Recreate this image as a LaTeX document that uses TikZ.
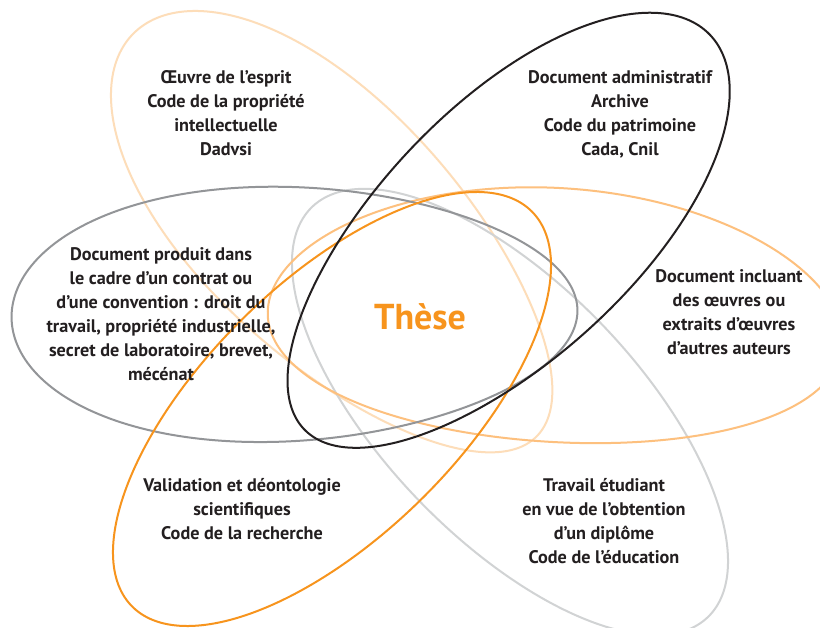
\documentclass[tikz,border=0pt]{standalone}
\usepackage{fontspec}
\setmainfont{PT Sans}
\definecolor{peach}{HTML}{FDDDB9}
\definecolor{lorange}{HTML}{FDC07E}
\definecolor{orng}{HTML}{F7941D}
\definecolor{blk}{HTML}{231F20}
\definecolor{gry}{HTML}{939598}
\definecolor{lgry}{HTML}{D1D3D4}
\tikzset{
  shapeline/.style={line width=2pt, line join=round},
  lbl/.style={align=center, font=\fontsize{18.2}{24}\selectfont\bfseries, text=blk, inner sep=0pt},
}
% #1 colour, #2 centre, #3 rotation, #4 a, #5 b, #6 egg factor, #7 bend
\newcommand\petalshape[7]{%
  \draw[#1, shapeline, shift={#2}, rotate=#3]
    plot[domain=0:360, samples=240, variable=\t]
    ({#4*cos(\t)}, {#5*sin(\t)*(1+#6*cos(\t)) + #7*cos(\t)*cos(\t)}) -- cycle;}
\begin{document}
\begin{tikzpicture}[x=1pt,y=-1pt]
\useasboundingbox (0,0) rectangle (820,628);
\fill[white] (0,0) rectangle (820,628);
\clip (0,0) rectangle (820,628);
\petalshape{peach}{(335,235)}{-45}{285}{127}{-0.1}{0}
\petalshape{lgry}{(510,412)}{-46}{285}{127}{0}{0}
\petalshape{lorange}{(556,315)}{-3.4}{288}{127}{0}{12}
\petalshape{gry}{(294.5,314)}{0.8}{283}{127}{-0.1}{0}
\petalshape{orng}{(332,409)}{44.6}{281}{127}{0}{0}
\petalshape{blk}{(507,232)}{44.3}{283}{127}{0.05}{0}
% labels
\node[lbl] (oeuvre) at (226,113) {Œuvre de l’esprit\\Code de la propriété\\intellectuelle\\Dadvsi};
\node[lbl] (admin) at (620,114) {Document administratif\\Archive\\Code du patrimoine\\Cada, Cnil};
\node[lbl] (contrat) at (161,314) {Document produit dans\\le cadre d’un contrat ou\\d’une convention : droit du\\travail, propriété industrielle,\\secret de laboratoire, brevet,\\mécénat};
\node[lbl] (incluant) at (729,312) {Document incluant\\des œuvres ou\\extraits d’œuvres\\d’autres auteurs};
\node[lbl] (validation) at (242,509) {Validation et déontologie\\scientifiques\\Code de la recherche};
\node[lbl] (travail) at (604,521) {Travail étudiant\\en vue de l’obtention\\d’un diplôme\\Code de l’éducation};
\node[font=\fontsize{36}{40}\selectfont\bfseries, text=orng, inner sep=0pt] (these) at (420,317) {Thèse};
\end{tikzpicture}
\end{document}
